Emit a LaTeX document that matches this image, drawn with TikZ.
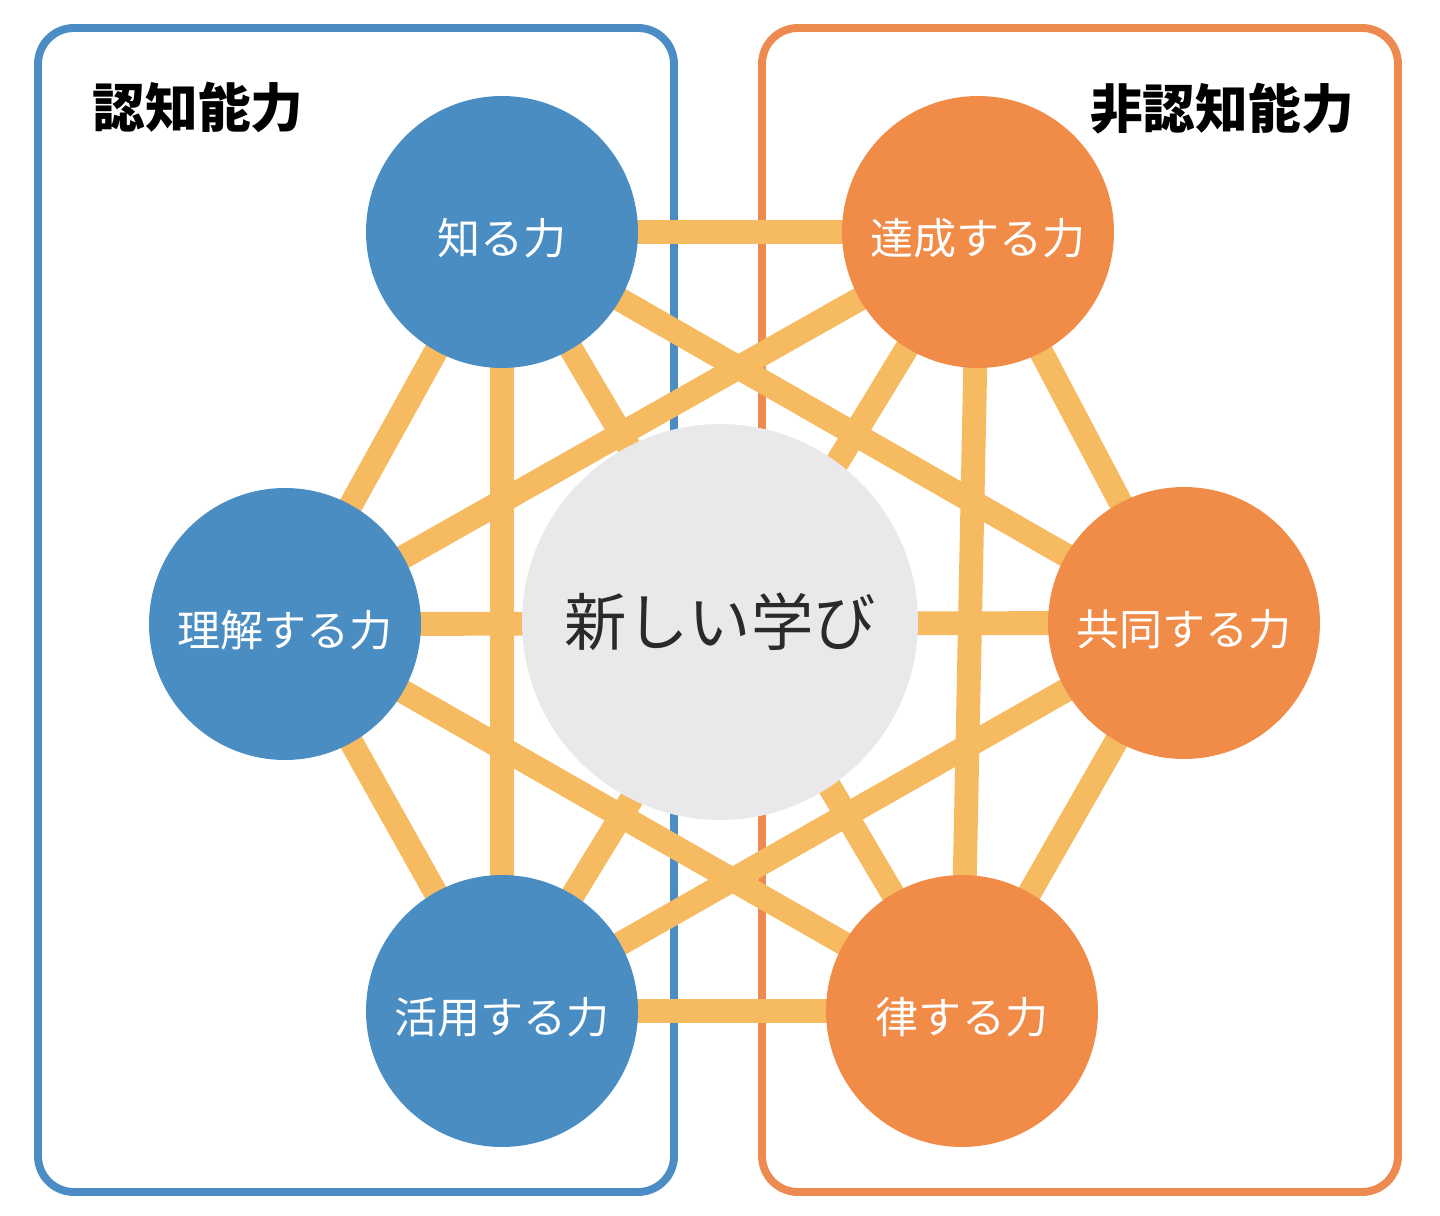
\documentclass[tikz,border=0pt]{standalone}
\usepackage{fontspec}
\usepackage{xcolor}
\usepackage{tikz}
\usetikzlibrary{backgrounds}
\setmainfont{Noto Sans CJK JP}
\newfontfamily\cjk{Noto Sans CJK JP}
\definecolor{panelblue}{HTML}{4A8CC3}
\definecolor{panelorange}{HTML}{EC8A50}
\definecolor{ballblue}{HTML}{4A8DC3}
\definecolor{ballorange}{HTML}{F08B48}
\definecolor{gold}{HTML}{F6BA60}
\definecolor{mist}{HTML}{E9E9EB}
\definecolor{ink}{HTML}{2A2A2A}
\tikzset{
  panel/.style={rounded corners=0.72cm,line width=4.5pt},
  ball/.style={circle,inner sep=0pt,minimum size=5.44cm,text=white,
    font=\cjk\fontsize{24.5}{26}\selectfont,text height=1.0cm,text depth=0.1cm},
  blueball/.style={ball,fill=ballblue},
  orangeball/.style={ball,fill=ballorange},
  core/.style={circle,inner sep=0pt,minimum size=7.92cm,fill=mist,text=ink,
    font=\cjk\fontsize{35.5}{38}\selectfont},
  heading/.style={inner sep=0pt,text=black,font=\cjk\bfseries\fontsize{30}{32}\selectfont},
  link/.style={line width=13.6pt,draw=gold}
}
\begin{document}
\begin{tikzpicture}[x=0.02cm,y=-0.02cm]
\useasboundingbox (0,0) rectangle (1440,1216);
\node[heading] (cog) at (198,107) {認知能力};
\node[heading] (noncog) at (1222,109) {非認知能力};
\node[blueball] (know) at (502,232) {知る力};
\node[blueball] (grasp) at (285,624) {理解する力};
\node[blueball] (apply) at (502,1011) {活用する力};
\node[orangeball] (reach) at (978,232) {達成する力};
\node[orangeball] (share) at (1184,623) {共同する力};
\node[orangeball] (rule) at (962,1011) {律する力};
\node[core] (new) at (720,622) {新しい学び};
\begin{scope}[on background layer]
\draw[panel,draw=panelblue] (38,28) rectangle (674,1192);
\draw[panel,draw=panelorange] (762,28) rectangle (1398,1192);
\draw[link] (know.center)--(reach.center);\draw[link] (know.center)--(grasp.center);\draw[link] (know.center)--(apply.center);
\draw[link] (know.center)--(share.center);\draw[link] (know.center)--(rule.center);
\draw[link] (grasp.center)--(reach.center);\draw[link] (grasp.center)--(share.center);\draw[link] (grasp.center)--(apply.center);
\draw[link] (grasp.center)--(rule.center);
\draw[link] (apply.center)--(reach.center);\draw[link] (apply.center)--(share.center);\draw[link] (apply.center)--(rule.center);
\draw[link] (reach.center)--(share.center);\draw[link] (reach.center)--(rule.center);\draw[link] (share.center)--(rule.center);
\end{scope}
\end{tikzpicture}
\end{document}
